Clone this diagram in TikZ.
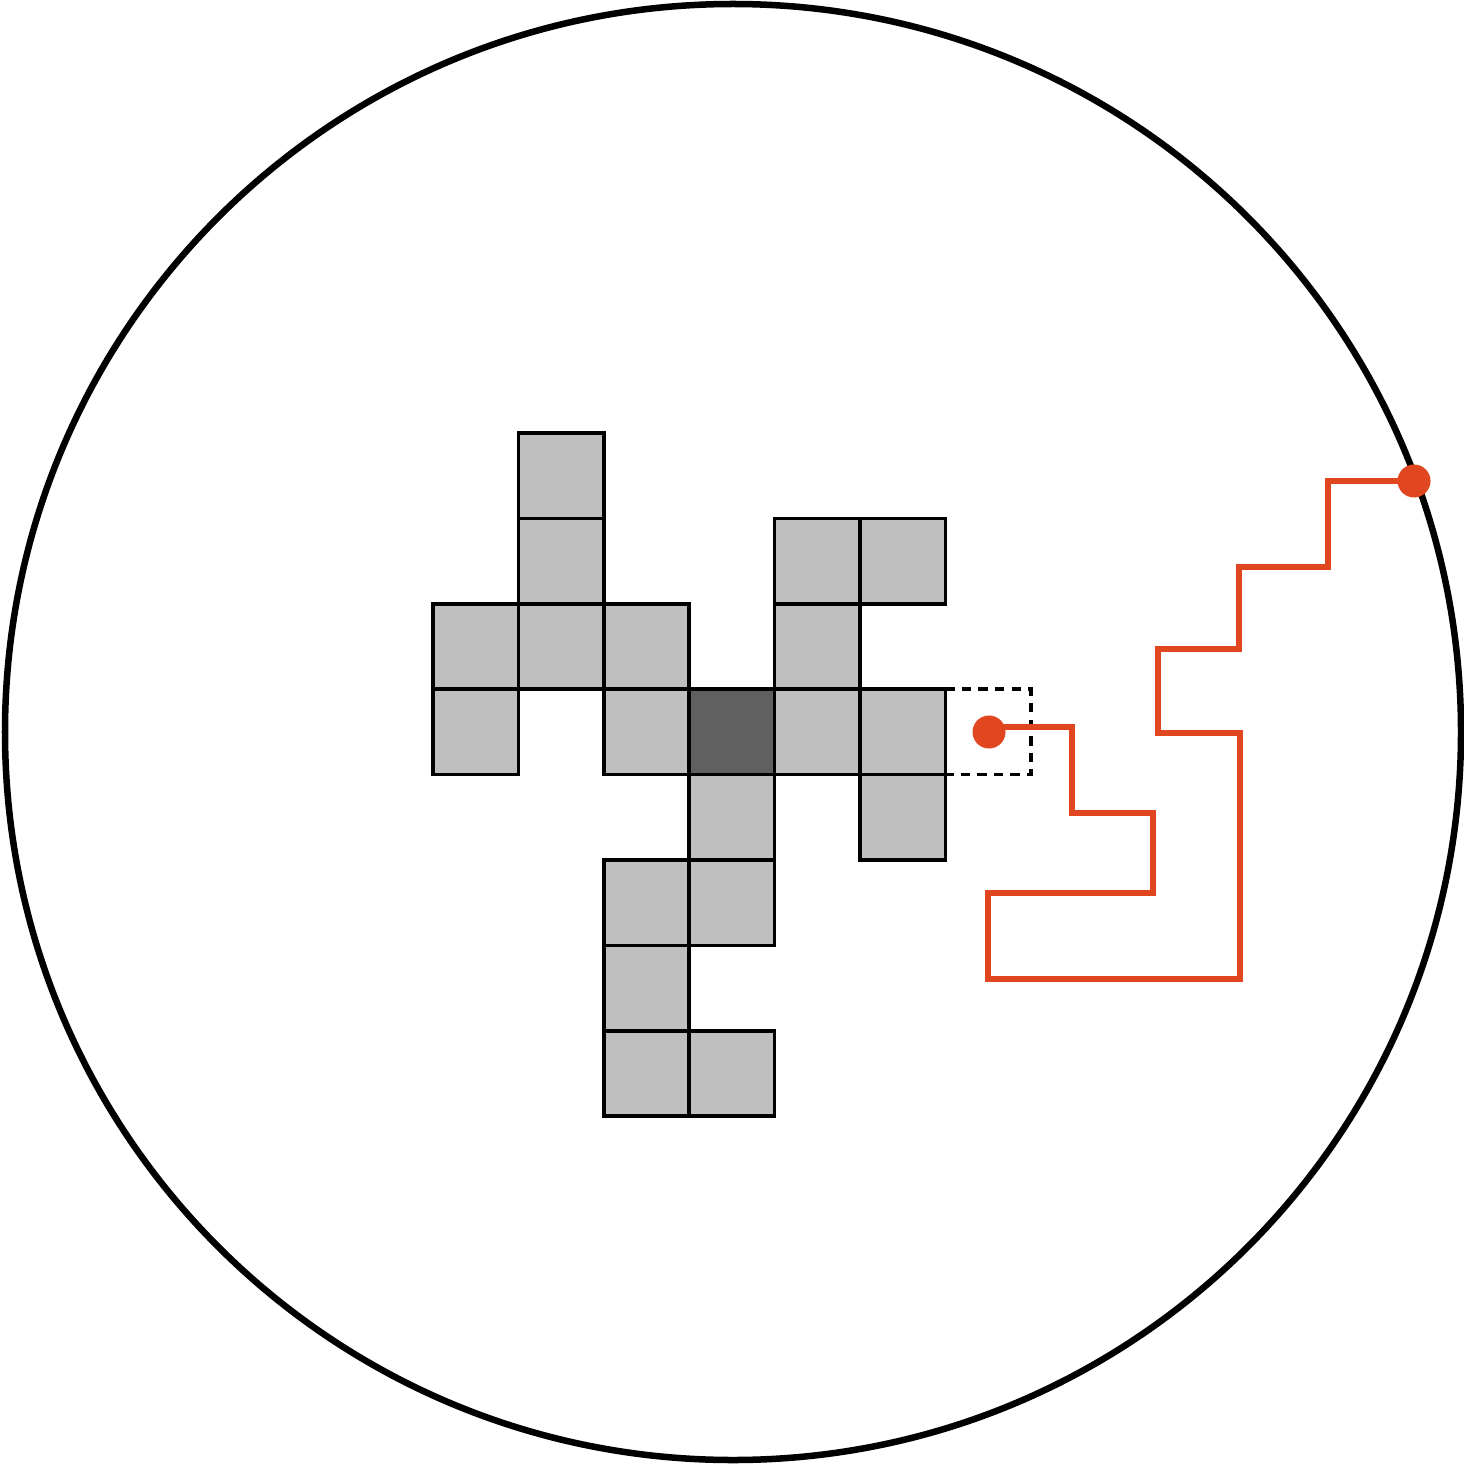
\documentclass[tikz,border=0pt]{standalone}
\usetikzlibrary{calc}
\definecolor{cellgray}{HTML}{BFBFBF}
\definecolor{seedgray}{HTML}{606060}
\definecolor{walkred}{HTML}{E0461F}
\tikzset{
  cellbox/.style={draw=black, line width=1.05pt, fill=cellgray},
  seedbox/.style={draw=black, line width=1.05pt, fill=seedgray},
  candbox/.style={draw=black, line width=1.05pt, dash pattern=on 2.7pt off 2pt},
  walkline/.style={draw=walkred, line width=1.5pt, line join=miter},
  walkdot/.style={circle, fill=walkred, inner sep=0pt, minimum size=0.33cm},
  bound/.style={draw=black, line width=1.85pt}
}
\begin{document}
\begin{tikzpicture}[x=0.01cm, y=-0.01cm]
\useasboundingbox (0,0) rectangle (1464,1464);
\draw[bound] (733,732) circle[radius=728];
% aggregate cells
\def\s{85.4}
\foreach \i/\j in {1/0, 1/1, 4/1, 5/1, 0/2, 1/2, 2/2, 4/2, 0/3, 2/3, 4/3, 5/3, 3/4, 5/4, 2/5, 3/5, 2/6, 2/7, 3/7}{
  \path[cellbox] ({433+\i*\s},{433+\j*\s}) rectangle ({433+(\i+1)*\s},{433+(\j+1)*\s});
}
\path[seedbox] ({433+3*\s},{433+3*\s}) rectangle ({433+4*\s},{433+4*\s});
% candidate site
\draw[candbox] ({433+6*\s},{433+3*\s}) -- ({433+7*\s},{433+3*\s}) -- ({433+7*\s},{433+4*\s}) -- ({433+6*\s},{433+4*\s});
% random walk
\node[walkdot] (start) at (989,732) {};
\node[walkdot] (finish) at (1414,481) {};
\coordinate (w0) at (989,727);
\draw[walkline] (w0) -- (1072,727) -- (1072,813) -- (1153,813) -- (1153,893) -- (988,893) -- (988,979) -- (1240,979) -- (1240,733) -- (1158,733) -- (1158,649) -- (1239,649) -- (1239,567) -- (1328,567) -- (1328,481) -- (finish.center);
\end{tikzpicture}
\end{document}
